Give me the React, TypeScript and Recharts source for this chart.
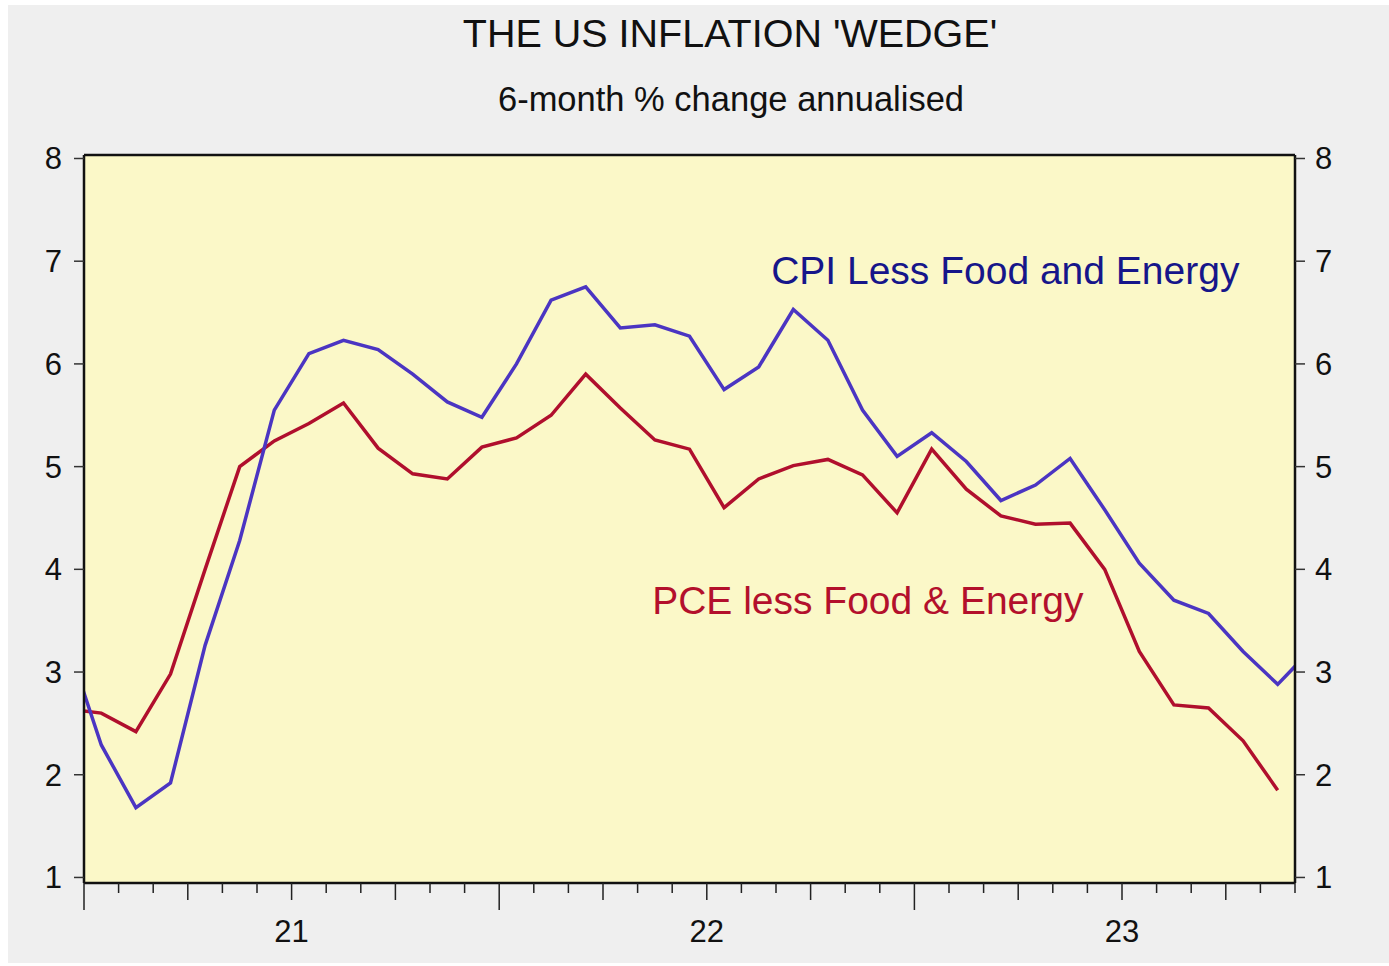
import { LineChart, Line, XAxis, YAxis, CartesianGrid, ReferenceDot, ReferenceLine } from "recharts";

// monthly observations, Dec 2020 .. Dec 2023 (first and last partly outside the plot)
const months = [
  "Dec 20",
  "Jan 21", "Feb 21", "Mar 21", "Apr 21", "May 21", "Jun 21",
  "Jul 21", "Aug 21", "Sep 21", "Oct 21", "Nov 21", "Dec 21",
  "Jan 22", "Feb 22", "Mar 22", "Apr 22", "May 22", "Jun 22",
  "Jul 22", "Aug 22", "Sep 22", "Oct 22", "Nov 22", "Dec 22",
  "Jan 23", "Feb 23", "Mar 23", "Apr 23", "May 23", "Jun 23",
  "Jul 23", "Aug 23", "Sep 23", "Oct 23", "Nov 23", "Dec 23",
];

const cpiCore = [
  3.3,
  2.29, 1.68, 1.92, 3.26, 4.28, 5.55,
  6.1, 6.23, 6.14, 5.9, 5.63, 5.48,
  6.0, 6.62, 6.75, 6.35, 6.38, 6.27,
  5.75, 5.97, 6.53, 6.23, 5.55, 5.1,
  5.33, 5.05, 4.67, 4.82, 5.08, 4.58,
  4.06, 3.7, 3.57, 3.2, 2.88, 3.23,
];

const pceCore = [
  2.64,
  2.6, 2.42, 2.98, 4.0, 5.0, 5.25,
  5.42, 5.62, 5.18, 4.93, 4.88, 5.19,
  5.28, 5.5, 5.9, 5.57, 5.26, 5.17,
  4.6, 4.88, 5.01, 5.07, 4.92, 4.55,
  5.17, 4.78, 4.52, 4.44, 4.45, 4.0,
  3.2, 2.68, 2.65, 2.33, 1.85, null,
];

const yTicks = [1, 2, 3, 4, 5, 6, 7, 8];
const yearLabels = ["21", "22", "23"];
const monthTicks = Array.from({ length: 36 }, (_, i) => i);
const Y_DOMAIN = [0.946, 8.034];

// each observation sits in the middle of its month
const data = months.map((m, i) => ({
  month: m,
  pos: i - 0.5,
  cpi: cpiCore[i],
  pce: pceCore[i],
}));

const FONT = "'Liberation Sans', Arial, sans-serif";

function MonthTick(props: any) {
  const { x, y, payload } = props;
  const m = payload.value;
  const len = m % 12 === 0 ? 27 : m % 3 === 0 ? 17 : 10;
  const label = m % 12 === 6 ? yearLabels[(m - 6) / 12] : null;
  return (
    <g>
      <line x1={x} x2={x} y1={y} y2={y + len} stroke="#222" strokeWidth={1.5} />
      {label && (
        <text x={x} y={y + 59} textAnchor="middle" fontSize={31} fill="#111" fontFamily={FONT}>
          {label}
        </text>
      )}
    </g>
  );
}

export default function App() {
  const yTick = { fontSize: 31, fill: "#111", fontFamily: FONT };
  return (
    <div
      style={{
        position: "absolute",
        left: 8,
        top: 5,
        width: 1381,
        height: 958,
        background: "#efefef",
        fontFamily: FONT,
      }}
    >
      <svg width={1381} height={130} style={{ position: "absolute", left: 0, top: 0 }}>
        <text x={722} y={42} textAnchor="middle" fontSize={39.5} fill="#111" fontFamily={FONT}>
          THE US INFLATION 'WEDGE'
        </text>
        <text x={723} y={106} textAnchor="middle" fontSize={34.5} fill="#111" fontFamily={FONT}>
          6-month % change annualised
        </text>
      </svg>
      <LineChart
        width={1381}
        height={958}
        data={data}
        margin={{ top: 150, right: 0, bottom: 0, left: 0 }}
        style={{ position: "absolute", left: 0, top: 0 }}
      >
        <CartesianGrid
          xAxisId="bottom"
          yAxisId="left"
          horizontal={false}
          vertical={false}
          fill="#fbf8c8"
        />
        <XAxis
          xAxisId="bottom"
          dataKey="pos"
          type="number"
          domain={[0, 35]}
          allowDataOverflow
          ticks={monthTicks}
          interval={0}
          height={80}
          tickSize={0}
          tickMargin={0}
          tickLine={false}
          tick={<MonthTick />}
          axisLine={{ stroke: "#111", strokeWidth: 2.5 }}
        />
        <YAxis
          yAxisId="left"
          width={76}
          domain={Y_DOMAIN}
          allowDataOverflow
          ticks={yTicks}
          interval={0}
          tickSize={10}
          tickMargin={12}
          tick={yTick}
          tickLine={{ stroke: "#333", strokeWidth: 1.5 }}
          axisLine={{ stroke: "#111", strokeWidth: 2.5 }}
        />
        <YAxis
          yAxisId="right"
          orientation="right"
          width={94}
          domain={Y_DOMAIN}
          allowDataOverflow
          ticks={yTicks}
          interval={0}
          tickSize={10}
          tickMargin={10}
          tick={yTick}
          tickLine={{ stroke: "#333", strokeWidth: 1.5 }}
          axisLine={{ stroke: "#111", strokeWidth: 2.5 }}
        />
        <ReferenceLine
          xAxisId="bottom"
          yAxisId="left"
          y={Y_DOMAIN[1]}
          ifOverflow="visible"
          stroke="#111"
          strokeWidth={2.5}
        />
        <Line
          xAxisId="bottom"
          yAxisId="left"
          type="linear"
          dataKey="pce"
          stroke="#b00f2d"
          strokeWidth={3.5}
          dot={false}
          isAnimationActive={false}
        />
        <Line
          xAxisId="bottom"
          yAxisId="left"
          type="linear"
          dataKey="cpi"
          stroke="#4b35c2"
          strokeWidth={3.5}
          dot={false}
          isAnimationActive={false}
        />
        <ReferenceDot
          xAxisId="bottom"
          yAxisId="left"
          x={19.86}
          y={6.91}
          r={0}
          label={{
            value: "CPI Less Food and Energy",
            position: "right",
            offset: 0,
            fill: "#16168a",
            fontSize: 39,
            fontFamily: FONT,
          }}
        />
        <ReferenceDot
          xAxisId="bottom"
          yAxisId="left"
          x={16.42}
          y={3.7}
          r={0}
          label={{
            value: "PCE less Food & Energy",
            position: "right",
            offset: 0,
            fill: "#b3102c",
            fontSize: 39,
            fontFamily: FONT,
          }}
        />
      </LineChart>
    </div>
  );
}
